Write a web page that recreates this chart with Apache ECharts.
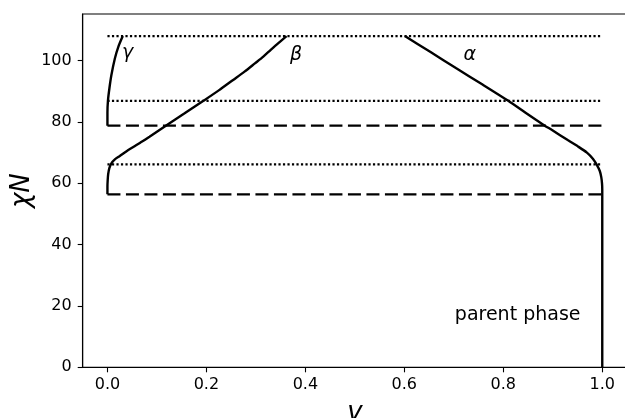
<!DOCTYPE html>
<html>
<head>
<meta charset="utf-8">
<script src="https://cdn.jsdelivr.net/npm/echarts@6/dist/echarts.min.js"></script>
<style>
  html, body { margin: 0; padding: 0; background: #fff; }
  #chart { width: 625px; height: 418px; }
</style>
</head>
<body>
<div id="chart"></div>
<script>
// Phase fractions v versus chi*N
const alphaCurve = [[1,0],[1,58],[0.9995,60],[0.998,62],[0.995,64],[0.989,66],[0.981,68],[0.969,70],[0.951,72],[0.931,74],[0.9,77.2],[0.88,79.2],[0.845,83],[0.81,86.9],[0.758,92.2],[0.705,97.5],[0.653,102.8],[0.601,108]];
const betaCurve = [[0,56.4],[0,59],[0.0005,61],[0.0015,63],[0.004,65],[0.008,66.5],[0.015,67.8],[0.025,68.9],[0.038,70.4],[0.053,71.9],[0.07,73.6],[0.085,75.2],[0.118,78.8],[0.156,82.8],[0.194,86.9],[0.225,90.3],[0.254,93.7],[0.277,96.4],[0.298,99.1],[0.315,101.3],[0.33,103.5],[0.346,105.8],[0.362,108]];
const gammaCurve = [[0,78.8],[0,83],[0.001,86.9],[0.004,91],[0.008,95.3],[0.015,100.7],[0.022,104.5],[0.031,108]];

// Transition levels
const dottedLevels = [66.2, 86.9, 108];
const dashedLevels = [56.4, 78.8];

// Tick values
const xTicks = [0, 0.2, 0.4, 0.6, 0.8, 1.0];
const yTicks = [0, 20, 40, 60, 80, 100];

// Text annotations: [x, y, text]
const phaseLabels = [[0.041, 102.5, 'γ'], [0.381, 101.8, 'β'], [0.732, 101.8, 'α']];
const regionLabels = [[0.829, 17.1, 'parent phase']];

const FONT = 'DejaVu Sans';

function levelSeries(levels, dash, width) {
  return levels.map(v => ({
    type: 'line',
    data: [[0, v], [1, v]],
    showSymbol: false,
    silent: true,
    lineStyle: { color: '#000', width: width, type: dash, cap: 'butt' },
    z: 2
  }));
}

function curveSeries(data) {
  return {
    type: 'line',
    data: data,
    showSymbol: false,
    smooth: 0.25,
    silent: true,
    lineStyle: { color: '#000', width: 2.4 },
    z: 3
  };
}

function textSeries(items, style) {
  return {
    type: 'scatter',
    data: items.map(d => ({ value: [d[0], d[1]], name: d[2] })),
    symbolSize: 0,
    silent: true,
    itemStyle: { opacity: 1 },
    label: Object.assign({
      show: true,
      position: 'inside',
      formatter: p => p.name,
      color: '#000',
      opacity: 1,
      fontFamily: FONT
    }, style),
    z: 4
  };
}

const chart = echarts.init(document.getElementById('chart'), null, { renderer: 'canvas' });
chart.setOption({
  animation: false,
  backgroundColor: '#fff',
  grid: {
    left: 82.7, right: -2, top: 14, bottom: 50.7,
    containLabel: false,
    outerBoundsMode: 'none',
    show: true, borderColor: '#000', borderWidth: 1.1, backgroundColor: 'transparent'
  },
  xAxis: {
    type: 'value',
    min: -0.05, max: 1.05,
    name: 'v',
    nameLocation: 'middle',
    nameGap: 33,
    nameMoveOverlap: false,
    nameTextStyle: { fontFamily: FONT, fontStyle: 'italic', fontSize: 26, color: '#000' },
    axisLine: { show: true, onZero: false, lineStyle: { color: '#000', width: 1.1 } },
    axisTick: { show: true, inside: false, length: 5, customValues: xTicks, lineStyle: { color: '#000', width: 1.1 } },
    axisLabel: {
      show: true, margin: 10, customValues: xTicks,
      formatter: v => v.toFixed(1),
      fontFamily: FONT, fontSize: 16, color: '#000'
    },
    splitLine: { show: false }
  },
  yAxis: {
    type: 'value',
    min: 0, max: 115.2,
    name: 'χN',
    nameLocation: 'middle',
    nameGap: 47,
    nameRotate: 90,
    nameMoveOverlap: false,
    nameTextStyle: { fontFamily: FONT, fontStyle: 'italic', fontSize: 26, color: '#000' },
    axisLine: { show: true, onZero: false, lineStyle: { color: '#000', width: 1.1 } },
    axisTick: { show: true, inside: false, length: 5, customValues: yTicks, lineStyle: { color: '#000', width: 1.1 } },
    axisLabel: {
      show: true, margin: 11, customValues: yTicks,
      fontFamily: FONT, fontSize: 16, color: '#000'
    },
    splitLine: { show: false }
  },
  series: [].concat(
    levelSeries(dottedLevels, [2.2, 2.3], 2.2),
    levelSeries(dashedLevels, [13, 5.5], 2.2),
    [curveSeries(alphaCurve), curveSeries(betaCurve), curveSeries(gammaCurve)],
    [textSeries(phaseLabels, { fontSize: 19, fontStyle: 'italic' })],
    [textSeries(regionLabels, { fontSize: 19 })]
  )
});
</script>
</body>
</html>
